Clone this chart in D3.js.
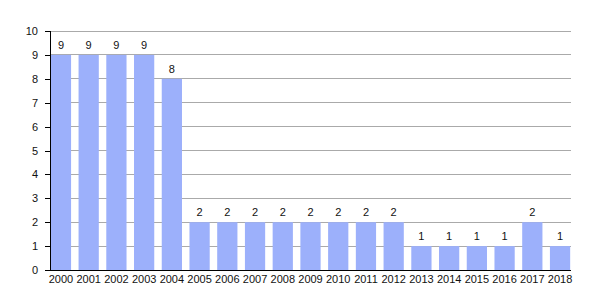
<!DOCTYPE html>
<html>
<head>
<meta charset="utf-8">
<script src="https://cdn.jsdelivr.net/npm/d3@7"></script>
<style>
  body { margin: 0; background: #fff; }
  text { font-family: "Liberation Sans", Arial, sans-serif; font-size: 11px; fill: #111; }
</style>
</head>
<body>
<div id="graf"></div>
<script>
// datos
anos = ['2000','2001','2002','2003','2004','2005','2006','2007','2008','2009',
        '2010','2011','2012','2013','2014','2015','2016','2017','2018']
valores = [9, 9, 9, 9, 8, 2, 2, 2, 2, 2, 2, 2, 2, 1, 1, 1, 1, 2, 1]
ticksY = [0, 1, 2, 3, 4, 5, 6, 7, 8, 9, 10]

// configuración
ancho_total = 600
alto_total = 300
margins = { top: 31, left: 50, right: 29, bottom: 30 }
ancho = ancho_total - margins.left - margins.right
alto = alto_total - margins.top - margins.bottom

svg = d3.select('#graf').append('svg')
        .attr('width', ancho_total)
        .attr('height', alto_total)

g = svg.append('g')
       .attr('transform', `translate(${margins.left}, ${margins.top})`)

x = d3.scaleBand()
      .domain(anos)
      .range([0, ancho])
      .paddingInner(0.27)
      .paddingOuter(0.03)

y = d3.scaleLinear()
      .domain([0, 10])
      .range([alto, 0])

// rejilla
g.selectAll('line.grid')
  .data(ticksY.filter(d => d > 0))
  .enter().append('line')
    .attr('class', 'grid')
    .attr('x1', 0)
    .attr('x2', ancho)
    .attr('y1', d => y(d))
    .attr('y2', d => y(d))
    .style('stroke', '#aaa')
    .style('stroke-width', 1)
    .attr('shape-rendering', 'crispEdges')

// barras
g.selectAll('rect')
  .data(valores)
  .enter().append('rect')
    .attr('x', (d, i) => x(anos[i]))
    .attr('width', x.bandwidth())
    .attr('y', d => y(d))
    .attr('height', d => alto - y(d))
    .style('fill', '#9cb0fb')

// etiquetas de valor
g.selectAll('text.valor')
  .data(valores)
  .enter().append('text')
    .attr('class', 'valor')
    .attr('x', (d, i) => x(anos[i]) + x.bandwidth() / 2)
    .attr('y', d => y(d) - 6)
    .attr('text-anchor', 'middle')
    .text(d => d)

// ejes
yAxisCall = d3.axisLeft(y).tickValues(ticksY).tickSize(5).tickPadding(7)
yAxisGroup = g.append('g').call(yAxisCall)
yAxisGroup.select('.domain').attr('d', `M0,${alto}V0`)

xAxisCall = d3.axisBottom(x).tickSize(0).tickPadding(5)
xAxisGroup = g.append('g')
  .attr('transform', `translate(0, ${alto})`)
  .call(xAxisCall)
xAxisGroup.select('.domain').attr('d', `M-5,0H${ancho}`)

svg.selectAll('.domain, .tick line')
   .style('stroke', '#000')
   .attr('shape-rendering', 'crispEdges')
svg.selectAll('.tick text')
   .style('font-family', '"Liberation Sans", Arial, sans-serif')
   .style('font-size', '11px')
   .style('fill', '#111')
</script>
</body>
</html>
